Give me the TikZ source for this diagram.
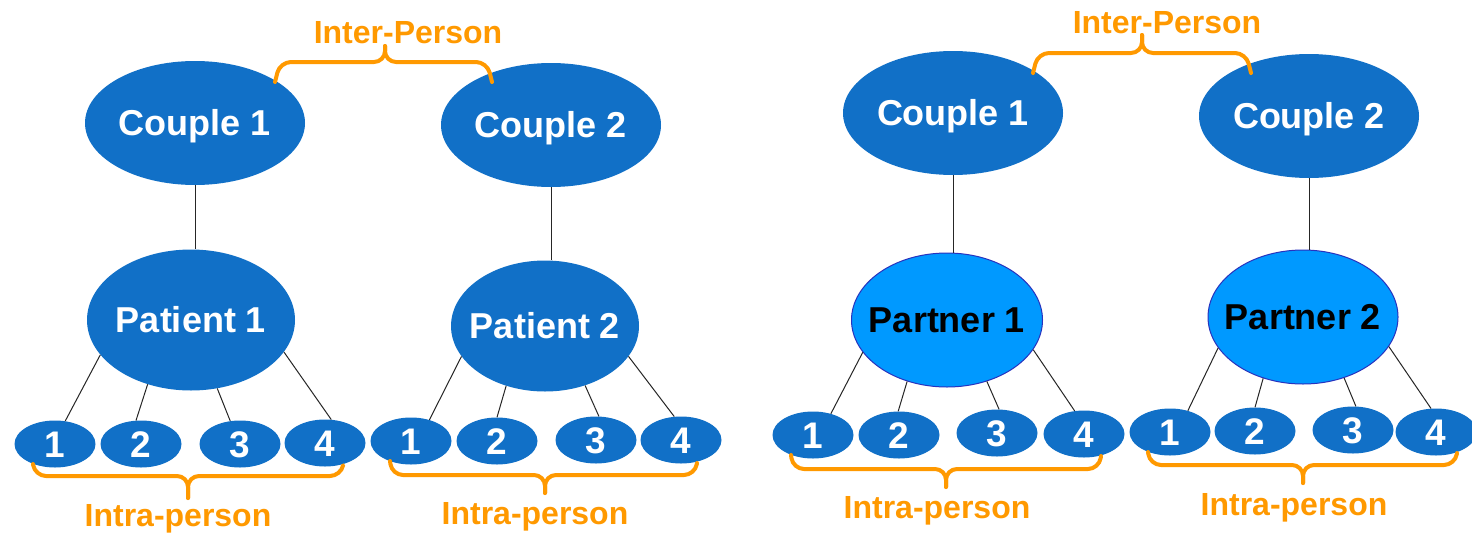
\documentclass[tikz,border=0pt]{standalone}
\usepackage{fontspec}
\setmainfont{Liberation Sans}
\usetikzlibrary{shapes.geometric}
\definecolor{cblue}{RGB}{17,112,199}
\definecolor{lblue}{RGB}{0,153,255}
\definecolor{pborder}{RGB}{40,50,190}
\definecolor{corange}{RGB}{255,153,0}
\newcommand\zw[1]{\makebox[0pt]{#1}}
\tikzset{
  blob/.style={ellipse, fill=cblue, draw=none, inner sep=0pt, text=white,
    font=\bfseries\fontsize{36}{40}\selectfont, text height=25.5pt, text depth=0pt},
  couple/.style={blob, minimum width=220pt, minimum height=124pt},
  patient/.style={blob},
  partner/.style={blob, fill=lblue, draw=pborder, line width=1pt, text=black},
  item/.style={blob, minimum width=81pt, minimum height=47pt,
    font=\bfseries\fontsize{37}{40}\selectfont, text height=26.5pt},
  link/.style={draw=black!85, line width=1pt},
  brace/.style={draw=corange, line width=4pt, rounded corners=11pt, line cap=round, line join=round},
  lab/.style={text=corange, font=\bfseries\fontsize{32}{36}\selectfont, inner sep=0pt, anchor=base}
}
\begin{document}
\begin{tikzpicture}[x=1pt,y=-1pt]
\useasboundingbox[fill=white] (0,0) rectangle (1472,536);

% ---------- left panel ----------
\node[couple] (c1) at (195,123) {\zw{Couple 1}};
\node[couple] (c2) at (551,125) {\zw{Couple 2}};
\node[patient, minimum width=208pt, minimum height=141pt] (p1) at (191,320) {\zw{Patient 1}};
\node[patient, minimum width=188pt, minimum height=131pt] (p2) at (545,326) {\zw{Patient 2}};
\draw[link] (c1.south) -- (c1.south |- p1.north);
\draw[link] (c2.south) -- (c2.south |- p2.north);

\node[item] (a1) at (55,444) {\zw{1}};
\node[item] (a2) at (141,444) {\zw{2}};
\node[item] (a3) at (240,444) {\zw{3}};
\node[item] (a4) at (325,443) {\zw{4}};
\node[item] (b1) at (411,441) {\zw{1}};
\node[item] (b2) at (497,441) {\zw{2}};
\node[item] (b3) at (596,440) {\zw{3}};
\node[item] (b4) at (681,440) {\zw{4}};

\draw[link] (p1.201) -- (a1.66);
\draw[link] (p1.236) -- (a2.102);
\draw[link] (p1.291) -- (a3.113);
\draw[link] (p1.341) -- (a4.75);
\draw[link] (p2.200) -- (b1.49);
\draw[link] (p2.237) -- (b2.90);
\draw[link] (p2.304) -- (b3.83);
\draw[link] (p2.340) -- (b4.106);

\node[lab] (t1) at (408,43) {Inter-Person};
\draw[brace] (275,82) -- (280,62) -- (385,62) -- (385,46);
\draw[brace] (492,82) -- (487,62) -- (385,62) -- (385,46);

\draw[brace] (33,464) -- (35,476) -- (188,476) -- (188,498);
\draw[brace] (343,466) -- (341,476) -- (188,476) -- (188,498);
\node[lab] (t2) at (178,526) {Intra-person};

\draw[brace] (390,461) -- (392,475) -- (545,475) -- (545,493);
\draw[brace] (697,463) -- (695,475) -- (545,475) -- (545,493);
\node[lab] (t3) at (535,524) {Intra-person};

% ---------- right panel ----------
\node[couple] (d1) at (953,113) {\zw{Couple 1}};
\node[couple] (d2) at (1309,116) {\zw{Couple 2}};
\node[partner, minimum width=191pt, minimum height=134pt] (q1) at (947,320) {\zw{Partner 1}};
\node[partner, minimum width=190pt, minimum height=134pt] (q2) at (1303,317) {\zw{Partner 2}};
\draw[link] (d1.south) -- (d1.south |- q1.north);
\draw[link] (d2.south) -- (d2.south |- q2.north);

\node[item] (e1) at (813,435) {\zw{1}};
\node[item] (e2) at (899,435) {\zw{2}};
\node[item] (e3) at (997,433) {\zw{3}};
\node[item] (e4) at (1084,434) {\zw{4}};
\node[item] (f1) at (1170,432) {\zw{1}};
\node[item] (f2) at (1255,431) {\zw{2}};
\node[item] (f3) at (1353,430) {\zw{3}};
\node[item] (f4) at (1436,432) {\zw{4}};

\draw[link] (q1.201) -- (e1.50);
\draw[link] (q1.237) -- (e2.92);
\draw[link] (q1.303) -- (e3.85);
\draw[link] (q1.341) -- (e4.112);
\draw[link] (q2.200) -- (f1.50);
\draw[link] (q2.237) -- (f2.90);
\draw[link] (q2.304) -- (f3.83);
\draw[link] (q2.341) -- (f4.102);

\node[lab] (t4) at (1167,33) {Inter-Person};
\draw[brace] (1033,73) -- (1038,53) -- (1142,53) -- (1142,35);
\draw[brace] (1251,73) -- (1246,53) -- (1142,53) -- (1142,35);

\draw[brace] (791,455) -- (793,469) -- (946,469) -- (946,487);
\draw[brace] (1101,456) -- (1099,469) -- (946,469) -- (946,487);
\node[lab] (t5) at (937,518) {Intra-person};

\draw[brace] (1148,452) -- (1150,465) -- (1303,465) -- (1303,483);
\draw[brace] (1457,453) -- (1455,465) -- (1303,465) -- (1303,483);
\node[lab] (t6) at (1294,515) {Intra-person};
\end{tikzpicture}
\end{document}
